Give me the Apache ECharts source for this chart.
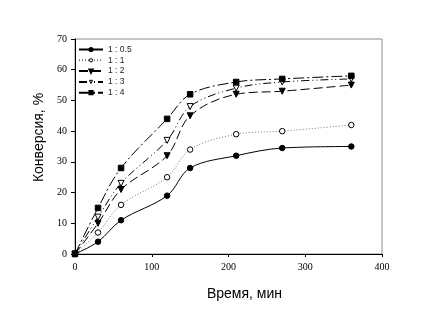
<!DOCTYPE html>
<html>
<head>
<meta charset="utf-8">
<script src="https://cdn.jsdelivr.net/npm/echarts@6/dist/echarts.min.js"></script>
<style>
  html, body { margin: 0; padding: 0; background: #fff; }
  #chart { width: 434px; height: 327px; }
</style>
</head>
<body>
<div id="chart"></div>
<script>
// Reaction time, minutes
var times = [0, 30, 60, 120, 150, 210, 270, 360];

// Conversion (%) for each molar ratio
var ratio05 = [0, 4, 11, 19, 28, 32, 34.5, 35];
var ratio1  = [0, 7, 16, 25, 34, 39, 40, 42];
var ratio2  = [0, 10, 21, 32, 45, 52, 53, 55];
var ratio3  = [0, 12, 23, 37, 48, 54, 56, 57];
var ratio4  = [0, 15, 28, 44, 52, 56, 57, 58];

var seriesNames = ['1 : 0.5', '1 : 1', '1 : 2', '1 : 3', '1 : 4'];
var xTicks = [0, 100, 200, 300, 400];
var yTicks = [0, 10, 20, 30, 40, 50, 60, 70];

function pairs(ys) {
  return times.map(function (t, i) { return [t, ys[i]]; });
}

var chart = echarts.init(document.getElementById('chart'));

function lineSeries(name, ys, lineType, lineColor, symbol, filled, size) {
  return {
    name: name,
    type: 'line',
    data: pairs(ys),
    smooth: 0.35,
    symbol: symbol,
    symbolSize: size,
    showAllSymbol: true,
    lineStyle: { color: lineColor, width: 1, type: lineType },
    itemStyle: {
      color: filled ? '#000' : '#fff',
      borderColor: '#000',
      borderWidth: 1
    },
    emphasis: { disabled: true },
    z: 3
  };
}

var openMarker = { color: '#fff', borderColor: '#000', borderWidth: 1 };

var option = {
  animation: false,
  backgroundColor: '#fff',
  grid: {
    left: 75, top: 39, width: 307, height: 215,
    show: true, borderColor: '#8a8a8a', borderWidth: 1, backgroundColor: 'transparent'
  },
  legend: {
    orient: 'vertical',
    left: 78, top: 45, padding: 0,
    itemWidth: 24, itemHeight: 4, itemGap: 1.8,
    textStyle: { fontFamily: 'Liberation Sans', fontSize: 8.5, color: '#222' },
    data: [
      { name: seriesNames[0] },
      { name: seriesNames[1], itemStyle: openMarker },
      { name: seriesNames[2] },
      { name: seriesNames[3], itemStyle: openMarker },
      { name: seriesNames[4] }
    ]
  },
  xAxis: {
    type: 'value',
    min: 0, max: 400, interval: 100,
    name: 'Время, мин',
    nameLocation: 'middle',
    nameGap: 33,
    nameTextStyle: {
      fontFamily: 'Liberation Sans', fontSize: 14, color: '#000',
      padding: [0, 0, 0, 32]
    },
    axisLine: { show: true, lineStyle: { color: '#000', width: 1 } },
    axisTick: { show: true, length: 3, lineStyle: { color: '#000' } },
    axisLabel: {
      fontFamily: 'Liberation Serif', fontSize: 10, color: '#000', margin: 8,
      formatter: function (v) { return xTicks.indexOf(v) >= 0 ? String(v) : ''; }
    },
    splitLine: { show: false }
  },
  yAxis: {
    type: 'value',
    min: 0, max: 70, interval: 10,
    name: 'Конверсия, %',
    nameLocation: 'middle',
    nameGap: 28,
    nameTextStyle: {
      fontFamily: 'Liberation Sans', fontSize: 14, color: '#000',
      padding: [0, 0, 0, 18]
    },
    axisLine: { show: true, lineStyle: { color: '#000', width: 1 } },
    axisTick: { show: true, length: 4, lineStyle: { color: '#000' } },
    axisLabel: {
      fontFamily: 'Liberation Serif', fontSize: 10, color: '#000', margin: 8,
      formatter: function (v) { return yTicks.indexOf(v) >= 0 ? String(v) : ''; }
    },
    splitLine: { show: false }
  },
  series: [
    lineSeries(seriesNames[0], ratio05, 'solid', '#000', 'circle', true, 5.5),
    lineSeries(seriesNames[1], ratio1, [1, 2], '#777', 'circle', false, 5.5),
    lineSeries(seriesNames[2], ratio2, [9, 4], '#000', 'triangle', true, 6),
    lineSeries(seriesNames[3], ratio3, [8, 3, 1, 3, 1, 3], '#000', 'triangle', false, 6),
    lineSeries(seriesNames[4], ratio4, [11, 3, 2, 3], '#000', 'rect', true, 5.5)
  ]
};

// Triangles in this chart point downward
option.series[2].symbolRotate = 180;
option.series[3].symbolRotate = 180;

chart.setOption(option);
</script>
</body>
</html>
